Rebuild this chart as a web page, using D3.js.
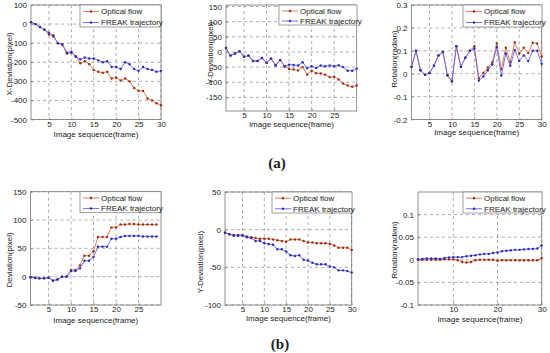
<!DOCTYPE html>
<html>
<head>
<meta charset="utf-8">
<script src="https://d3js.org/d3.v7.min.js"></script>
<style>
    body { margin: 0; background: #fff; }
    svg text { font-family: 'Liberation Sans', Arial, sans-serif; fill: #222; }
    .tick text { font-size: 8px; }
    .axisLabel { font-size: 8px; }
    .legend text { font-size: 8px; }
    .caption { font-family: 'Liberation Serif', 'DejaVu Serif', serif; font-weight: bold; font-size: 15px; }
</style>
</head>
<body>
<svg width="550" height="353"></svg>
<script>
// frame indices
var frames30 = [1,2,3,4,5,6,7,8,9,10,11,12,13,14,15,16,17,18,19,20,21,22,23,24,25,26,27,28,29,30];
var frames29 = [1,2,3,4,5,6,7,8,9,10,11,12,13,14,15,16,17,18,19,20,21,22,23,24,25,26,27,28,29];
var frames2to30 = [2,3,4,5,6,7,8,9,10,11,12,13,14,15,16,17,18,19,20,21,22,23,24,25,26,27,28,29,30];

// (a) X deviation
var aXOptical = [10,0,-15,-30,-55,-65,-100,-110,-155,-150,-170,-205,-195,-210,-240,-250,-255,-250,-285,-280,-295,-285,-300,-335,-350,-350,-390,-400,-415,-425];
var aXFreak   = [10,0,-15,-30,-45,-60,-100,-105,-150,-145,-170,-185,-175,-180,-180,-190,-200,-195,-225,-225,-235,-200,-210,-235,-245,-225,-235,-240,-250,-245];
// (a) Y deviation
var aYOptical = [13,-12,-5,2,-16,-12,-30,-30,-20,-36,-22,-44,-27,-47,-56,-58,-61,-50,-75,-62,-70,-71,-75,-83,-82,-91,-104,-111,-115,-111];
var aYFreak   = [13,-12,-5,2,-16,-12,-30,-30,-20,-36,-22,-44,-27,-47,-42,-43,-45,-34,-53,-47,-53,-45,-47,-45,-47,-44,-50,-62,-62,-55];
// (a) rotation
var aROptical = [0.03,0.1,0.015,-0.005,0.003,0.035,0.08,0.095,-0.007,-0.033,0.12,0.03,0.07,0.1,0.12,-0.02,0.003,0.027,0.05,0.132,0.02,0.113,0.05,0.137,0.088,0.113,0.09,0.135,0.132,0.075];
var aRFreak   = [0.03,0.1,0.015,-0.005,0.003,0.035,0.08,0.095,-0.007,-0.033,0.12,0.03,0.07,0.1,0.11,-0.03,-0.012,0.015,0.04,0.117,-0.008,0.088,0.035,0.103,0.056,0.08,0.055,0.1,0.1,0.043];

// (b) deviation
var bDOptical = [-1,-2,-3,-3,-2,-7,-5,0,0,12,12,20,37,37,45,70,70,70,87,87,92,92,93,93,92,92,92,92,92];
var bDFreak   = [-1,-2,-3,-3,-2,-7,-5,0,0,10,10,15,28,28,35,53,53,53,67,67,70,72,72,72,72,71,71,71,71];
// (b) Y deviation
var bYOptical = [-4,-6,-7,-7,-7,-9,-10,-11,-12,-12,-12,-13,-14,-15,-16,-13,-13,-13,-15,-17,-17,-18,-18,-18,-19,-21,-24,-24,-24,-27];
var bYFreak   = [-4,-6,-8,-8,-8,-10,-11,-15,-15,-18,-19,-20,-26,-26,-29,-34,-35,-34,-40,-41,-44,-46,-46,-46,-49,-50,-54,-54,-55,-57];
// (b) rotation
var bROptical = [0,0,0,0,0,0,0.001,0.001,0.001,-0.001,-0.005,-0.006,-0.005,-0.001,0,0,0,0,-0.002,-0.001,-0.001,-0.001,-0.001,-0.001,-0.001,-0.001,-0.001,-0.001,0.004];
var bRFreak   = [0.001,0.002,0.003,0.003,0.003,0.002,0.004,0.005,0.006,0.006,0.006,0.008,0.009,0.01,0.012,0.013,0.013,0.015,0.016,0.019,0.02,0.021,0.022,0.022,0.023,0.024,0.024,0.025,0.032];

var seriesNames = ["Optical flow", "FREAK trajectory"];
var xLabel = "Image sequence(frame)";

var cOpt = "#e0704a", cOptMark = "#a02a10";
var cFrk = "#6060f0", cFrkMark = "#2a2ab8";

var panels = [
    {x0: 31, x1: 161, y0: 5, y1: 119.5, xd: [1,30], xt: [5,10,15,20,25,30], yd: [-500,100], yt: [-500,-400,-300,-200,-100,0,100],
     xs: frames30, opt: aXOptical, frk: aXFreak, yl: "X-Deviation(pixel)", ylx: 9, ylc: 64, xly: 137, lg: [80, 5, 81, 22]},
    {x0: 226, x1: 356.7, y0: 5, y1: 111, xd: [1,30], xt: [5,10,15,20,25], yd: [-195,155], yt: [-150,-100,-50,0,50,100,150],
     xs: frames30, opt: aYOptical, frk: aYFreak, yl: "Y-Deviation(pixel)", ylx: 210, ylc: 53, xly: 126.5, lg: [279, 5, 78, 20]},
    {x0: 411.5, x1: 541.7, y0: 5, y1: 119.5, xd: [1,30], xt: [5,10,15,20,25,30], yd: [-0.2,0.3], yt: [-0.2,-0.1,0,0.1,0.2,0.3],
     xs: frames30, opt: aROptical, frk: aRFreak, yl: "Rotation(radian)", ylx: 394, ylc: 59, xly: 135, lg: [463, 5, 79, 22]},
    {x0: 30.5, x1: 161, y0: 191.7, y1: 305, xd: [1,30], xt: [5,10,15,20,25], yd: [-50,150], yt: [-50,0,50,100,150],
     xs: frames29, opt: bDOptical, frk: bDFreak, yl: "Deviation(pixel)", ylx: 9, ylc: 260, xly: 323, lg: [80, 191.7, 81, 21]},
    {x0: 225, x1: 351.7, y0: 192, y1: 305, xd: [1,30], xt: [5,10,15,20,25,30], yd: [-100,50], yt: [-100,-50,0,50],
     xs: frames30, opt: bYOptical, frk: bYFreak, yl: "Y-Deviation(pixel)", ylx: 200, ylc: 262, xly: 321, lg: [272, 192, 80, 21]},
    {x0: 418, x1: 541.7, y0: 192, y1: 305, xd: [2,30], xt: [10,20,30], yd: [-0.1,0.15], yt: [-0.1,-0.05,0,0.05,0.1],
     xs: frames2to30, opt: bROptical, frk: bRFreak, yl: "Rotation(radian)", ylx: 394, ylc: 250, xly: 321.5, lg: [463, 192, 79, 21]}
];

var svg = d3.select("svg");
var fmt = function (v) { return String(+v.toFixed(3)); };

panels.forEach(function (p, i) {
    var g = svg.append("g").attr("class", "panel");
    var x = d3.scaleLinear().domain(p.xd).range([p.x0, p.x1]);
    var y = d3.scaleLinear().domain(p.yd).range([p.y1, p.y0]);

    // grid lines
    g.append("g").selectAll("line").data(p.xt).enter().append("line")
        .attr("x1", function (d) { return x(d); }).attr("x2", function (d) { return x(d); })
        .attr("y1", p.y0).attr("y2", p.y1)
        .attr("stroke", "#8a8a8a").attr("stroke-width", 0.7).attr("stroke-dasharray", "3,3");
    g.append("g").selectAll("line").data(p.yt).enter().append("line")
        .attr("y1", function (d) { return y(d); }).attr("y2", function (d) { return y(d); })
        .attr("x1", p.x0).attr("x2", p.x1)
        .attr("stroke", "#8a8a8a").attr("stroke-width", 0.7).attr("stroke-dasharray", "3,3");

    // axes
    var xAxis = g.append("g").attr("transform", "translate(0," + p.y1 + ")")
        .call(d3.axisBottom(x).tickValues(p.xt).tickSize(-2).tickPadding(1.5).tickFormat(fmt));
    var yAxis = g.append("g").attr("transform", "translate(" + p.x0 + ",0)")
        .call(d3.axisLeft(y).tickValues(p.yt).tickSize(-2).tickPadding(4).tickFormat(fmt));
    [xAxis, yAxis].forEach(function (a) {
        a.select(".domain").remove();
        a.selectAll(".tick line").attr("stroke", "#555").attr("stroke-width", 0.6);
        a.selectAll(".tick text").attr("fill", "#222");
    });

    // box
    g.append("rect").attr("x", p.x0).attr("y", p.y0)
        .attr("width", p.x1 - p.x0).attr("height", p.y1 - p.y0)
        .attr("fill", "none").attr("stroke", "#777").attr("stroke-width", 0.8);

    // series
    var line = d3.line().x(function (d) { return x(d[0]); }).y(function (d) { return y(d[1]); });
    var sets = [
        {vals: p.opt, c: cOpt, m: cOptMark},
        {vals: p.frk, c: cFrk, m: cFrkMark}
    ];
    sets.forEach(function (s) {
        var pts = p.xs.map(function (f, k) { return [f, s.vals[k]]; });
        g.append("path").datum(pts).attr("d", line)
            .attr("fill", "none").attr("stroke", s.c).attr("stroke-width", 0.9);
        g.append("g").selectAll("circle").data(pts).enter().append("circle")
            .attr("cx", function (d) { return x(d[0]); })
            .attr("cy", function (d) { return y(d[1]); })
            .attr("r", 1.2).attr("fill", s.m);
    });

    // axis labels
    g.append("text").attr("class", "axisLabel")
        .attr("x", (p.x0 + p.x1) / 2).attr("y", p.xly)
        .attr("text-anchor", "middle").text(xLabel);
    g.append("text").attr("class", "axisLabel")
        .attr("transform", "translate(" + p.ylx + "," + p.ylc + ")rotate(-90)")
        .attr("dy", "0.35em").attr("text-anchor", "middle").text(p.yl);

    // legend
    var lg = g.append("g").attr("class", "legend");
    lg.append("rect").attr("x", p.lg[0]).attr("y", p.lg[1])
        .attr("width", p.lg[2]).attr("height", p.lg[3])
        .attr("fill", "#fff").attr("stroke", "#777").attr("stroke-width", 0.7);
    var rowH = p.lg[3] / 2;
    [[cOpt, cOptMark], [cFrk, cFrkMark]].forEach(function (c, k) {
        var ly = p.lg[1] + rowH * k + rowH / 2 + 1;
        lg.append("line").attr("x1", p.lg[0] + 3).attr("x2", p.lg[0] + 19)
            .attr("y1", ly).attr("y2", ly).attr("stroke", c[0]).attr("stroke-width", 0.9);
        lg.append("circle").attr("cx", p.lg[0] + 11).attr("cy", ly).attr("r", 1.2).attr("fill", c[1]);
        lg.append("text").attr("x", p.lg[0] + 21).attr("y", ly).attr("dy", "0.35em").text(seriesNames[k]);
    });
});

svg.append("text").attr("class", "caption").attr("x", 277).attr("y", 168).attr("text-anchor", "middle").text("(a)");
svg.append("text").attr("class", "caption").attr("x", 280).attr("y", 349).attr("text-anchor", "middle").text("(b)");
</script>
</body>
</html>
